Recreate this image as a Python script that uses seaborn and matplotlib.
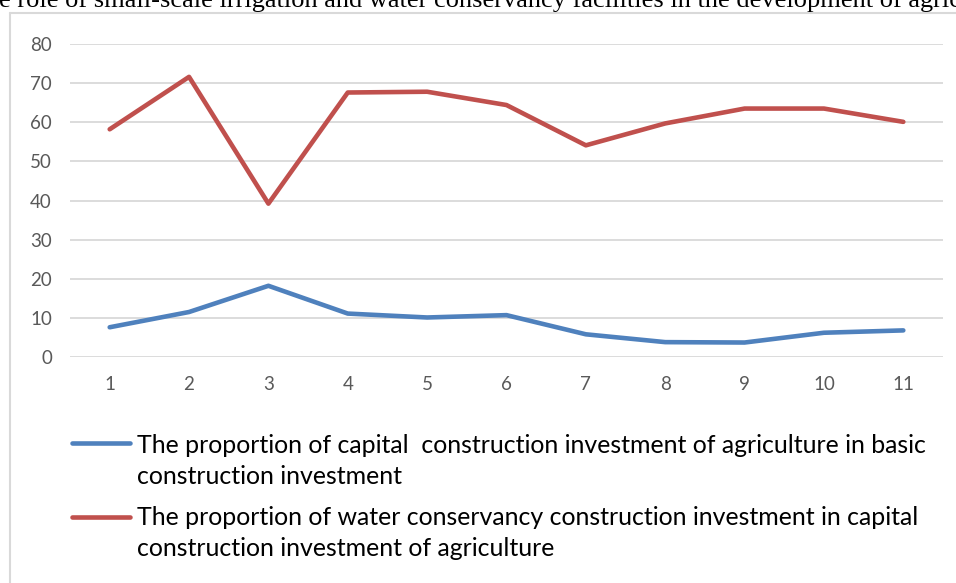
import matplotlib
matplotlib.use("Agg")
import matplotlib.pyplot as plt
from matplotlib.lines import Line2D
import seaborn as sns
import pandas as pd

periods = [1, 2, 3, 4, 5, 6, 7, 8, 9, 10, 11]
capital_share = [7.6, 11.5, 18.2, 11.1, 10.1, 10.7, 5.8, 3.8, 3.7, 6.2, 6.8]
water_share = [58.2, 71.6, 39.2, 67.6, 67.8, 64.4, 54.1, 59.7, 63.5, 63.5, 60.1]
series_names = [
    "The proportion of capital  construction investment of agriculture in basic\nconstruction investment",
    "The proportion of water conservancy construction investment in capital\nconstruction investment of agriculture",
]
y_ticks = [0, 10, 20, 30, 40, 50, 60, 70, 80]
title_text = "e role of small-scale irrigation and water conservancy facilities in the development of agric"

colors = ["#4f81bd", "#c0504d"]

df = pd.DataFrame({
    "period": periods * 2,
    "value": capital_share + water_share,
    "series": [series_names[0]] * len(periods) + [series_names[1]] * len(periods),
})

sns.set_theme(style="white")
narrow = ["Lato", "DejaVu Sans"]
plt.rcParams["font.family"] = narrow

W, H = 956, 583
fig = plt.figure(figsize=(W / 100, H / 100), dpi=100)
ax = fig.add_axes([70 / W, 1 - 357 / H, (943 - 70) / W, (357 - 44) / H])

sns.lineplot(data=df, x="period", y="value", hue="series", palette=colors,
             linewidth=3.3, ax=ax, legend=False, sort=False)

ax.set_xlim(0.5, 11.5)
ax.set_ylim(0, 80)
ax.set_xticks(periods)
ax.set_xticklabels([str(p) for p in periods])
ax.set_yticks(y_ticks)
ax.set_yticklabels([str(t) for t in y_ticks])
ax.yaxis.grid(True, color="#d9d9d9", linewidth=1.3)
ax.xaxis.grid(False)
ax.set_axisbelow(True)
for s in ax.spines.values():
    s.set_visible(False)
ax.tick_params(axis="y", length=0, pad=13, labelsize=13.5, labelcolor="#595959")
ax.tick_params(axis="x", length=0, pad=14, labelsize=13.5, labelcolor="#595959")
ax.set_xlabel("")
ax.set_ylabel("")

# chart border (top and left edges visible)
fig.add_artist(Line2D([9.5 / W, 1], [1 - 13 / H, 1 - 13 / H], color="#d9d9d9", linewidth=1.5))
fig.add_artist(Line2D([9.5 / W, 9.5 / W], [0, 1 - 13 / H], color="#d9d9d9", linewidth=1.5))

# cut-off title at top
fig.text(-1 / W, 1 - 7 / H, title_text, family=["Liberation Serif", "DejaVu Serif"],
         fontsize=19, color="black", ha="left", va="baseline")

# legend
legend_rows = [(443, 453, series_names[0], colors[0]), (517, 525, series_names[1], colors[1])]
for y, base, name, c in legend_rows:
    fig.add_artist(Line2D([72 / W, 130 / W], [1 - y / H, 1 - y / H], color=c, linewidth=3.3))
    for i, line in enumerate(name.split("\n")):
        fig.text(137 / W, 1 - (base + 31 * i) / H, line, fontsize=17.9, color="black",
                 ha="left", va="baseline", family=narrow)

fig.savefig("out.png", dpi=100)
